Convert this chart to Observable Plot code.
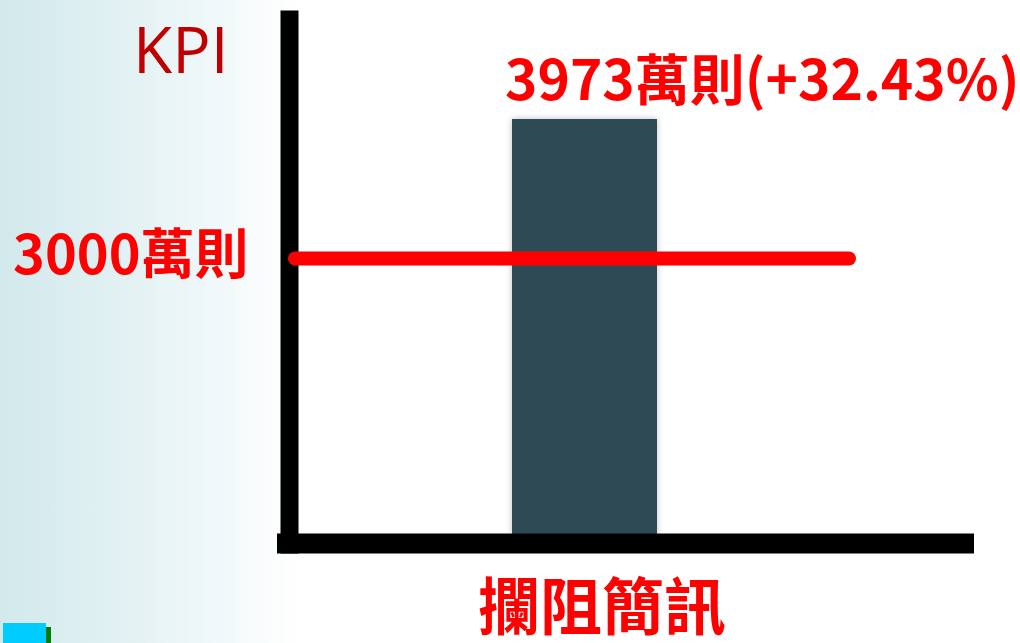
<!DOCTYPE html>
<html>
<head>
<meta charset="utf-8">
<script src="https://cdn.jsdelivr.net/npm/d3@7"></script>
<script src="https://cdn.jsdelivr.net/npm/@observablehq/plot@0.6"></script>
<style>
  html, body { margin: 0; padding: 0; }
  body {
    width: 1020px; height: 643px; overflow: hidden; position: relative;
    background: linear-gradient(to right, #d2e9ec 0px, #e6f3f5 150px, #ffffff 300px);
  }
  #chart { position: absolute; left: 0; top: 0; }
  .deco1 { position: absolute; left: 3px; top: 623px; width: 43px; height: 20px; background: #00ccff; }
  .deco2 { position: absolute; left: 46px; top: 627px; width: 5px; height: 16px; background: #008000; }
</style>
</head>
<body>
<div id="chart"></div>
<div class="deco2"></div>
<div class="deco1"></div>
<script>
// ---- data ----
const categories = ["攔阻簡訊"];
const values = [3973];          // 萬則
const growth = ["+32.43%"];
const kpiValue = 3000;          // 萬則
const unit = "萬則";
const kpiTitle = "KPI";
// drawn (non-zero) baseline and top of the value axis as in the picture
const yFloor = 1061;
const yTop = 4736;

const data = categories.map((c, i) => ({category: c, value: values[i], growth: growth[i]}));

const RED = "#ff0000";
const CJK = "'Noto Sans CJK TC', 'Noto Sans', sans-serif";

const plot = Plot.plot({
  width: 1020,
  height: 643,
  marginLeft: 289,
  marginRight: 50,
  marginTop: 10,
  marginBottom: 108,
  style: {background: "transparent", overflow: "visible"},
  x: {domain: categories, axis: null, paddingInner: 0, paddingOuter: 1.848, align: 0.416},
  y: {domain: [yFloor, yTop], axis: null},
  marks: [
    Plot.barY(data, {x: "category", y1: yFloor, y2: "value", fill: "#2e4a55"}),
    // axes
    Plot.frame({anchor: "left", stroke: "black", strokeWidth: 18, insetTop: 9, insetBottom: -9}),
    Plot.ruleY([yFloor], {stroke: "black", strokeWidth: 20, dy: 8, insetLeft: -12, insetRight: -4}),
    // KPI line
    Plot.ruleY([kpiValue], {stroke: RED, strokeWidth: 14, strokeLinecap: "round", insetLeft: 6, insetRight: 121}),
    Plot.text([kpiValue], {y: d => d, frameAnchor: "left", textAnchor: "end", dx: -41, dy: -2,
      text: d => `${d}${unit}`, fill: RED, fontSize: 54, fontWeight: "bold", fontFamily: CJK}),
    // bar label
    Plot.text(data, {x: "category", y: "value", textAnchor: "start", dx: -80, dy: -37,
      text: d => `${d.value}${unit}(${d.growth})`, fill: RED, fontSize: 55, fontWeight: "bold", fontFamily: CJK}),
    // category label
    Plot.text(categories, {x: d => d, frameAnchor: "bottom", lineAnchor: "top", dx: 17, dy: 50,
      text: d => d, fill: RED, fontSize: 62, fontWeight: "bold", fontFamily: CJK}),
    // KPI title
    Plot.text([kpiTitle], {frameAnchor: "top-left", textAnchor: "end", lineAnchor: "top", dx: -61, dy: 17,
      text: d => d, fill: "#c00000", fontSize: 64, fontFamily: "'Open Sans', 'Liberation Sans', sans-serif"})
  ]
});

const barG = plot.querySelector('g[aria-label="bar"]');
if (barG) barG.style.filter = "drop-shadow(0px 0px 3px rgba(0,0,0,0.25))";
document.getElementById("chart").appendChild(plot);
</script>
</body>
</html>
